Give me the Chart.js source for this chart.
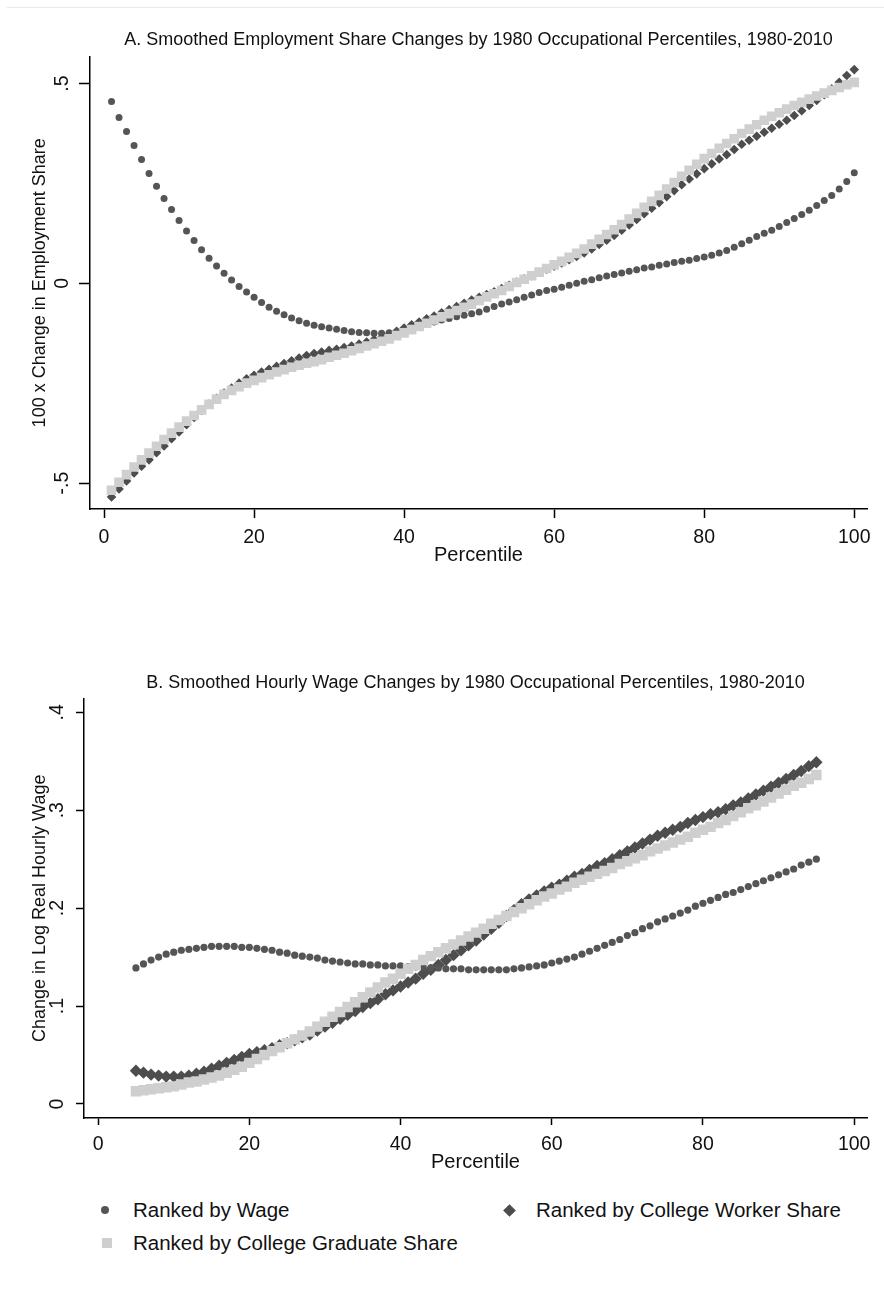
<!DOCTYPE html>
<html>
<head>
<meta charset="utf-8">
<script src="https://cdn.jsdelivr.net/npm/chart.js@4.4.1/dist/chart.umd.min.js"></script>
<style>
  body { margin: 0; background: #fff; width: 884px; height: 1289px; position: relative; overflow: hidden;
         font-family: "Liberation Sans", Arial, sans-serif; }
  #topline { position: absolute; left: 7px; right: 0; top: 7px; height: 1px; background: #e4eaf0; }
  canvas { position: absolute; left: 0; }
  #chartA { top: 0; }
  #chartB { top: 640px; }
  .item { position: absolute; font-size: 20.5px; line-height: 24px; color: #111; white-space: nowrap; }
  .mk { position: absolute; }
</style>
</head>
<body>
<div id="topline"></div>
<canvas id="chartA" width="884" height="580"></canvas>
<canvas id="chartB" width="884" height="550"></canvas>

<div class="mk" style="left:101px;top:1206px;width:8px;height:8px;border-radius:50%;background:#555;"></div>
<div class="item" style="left:133px;top:1198px;">Ranked by Wage</div>
<div class="mk" style="left:505px;top:1206px;width:9px;height:9px;background:#4d4d4d;transform:rotate(45deg);"></div>
<div class="item" style="left:536px;top:1198px;">Ranked by College Worker Share</div>
<div class="mk" style="left:102px;top:1238px;width:10px;height:10px;background:#cfcfcf;"></div>
<div class="item" style="left:133px;top:1231px;">Ranked by College Graduate Share</div>

<script>
function range(a, b) { var r = []; for (var i = a; i <= b; i++) r.push(i); return r; }

// percentile positions
const percentilesA = range(1, 100);
const percentilesB = range(5, 95);
const xTicks = [0, 20, 40, 60, 80, 100];
const yTicksA = [-0.5, 0, 0.5];
const yTicksB = [0, 0.1, 0.2, 0.3, 0.4];
const seriesNames = ["Ranked by Wage", "Ranked by College Worker Share", "Ranked by College Graduate Share"];

// Panel A: 100 x change in employment share
const wageA = [.455,.415,.38,.345,.31,.275,.243,.212,.185,.157,
  .131,.107,.084,.063,.043,.025,.008,-.008,-.022,-.035,
  -.048,-.06,-.07,-.079,-.087,-.094,-.1,-.105,-.109,-.112,
  -.115,-.118,-.121,-.123,-.124,-.125,-.125,-.124,-.121,-.116,
  -.111,-.106,-.101,-.097,-.092,-.088,-.084,-.080,-.076,-.072,
  -.065,-.058,-.052,-.047,-.041,-.035,-.029,-.023,-.018,-.015,
  -.010,-.005,.000,.005,.009,.014,.018,.022,.026,.030,
  .034,.038,.041,.045,.048,.052,.055,.058,.062,.066,
  .070,.076,.082,.090,.099,.108,.117,.125,.133,.142,
  .152,.162,.172,.183,.195,.207,.220,.236,.255,.277];
const workerA = [-.535,-.515,-.495,-.475,-.458,-.442,-.424,-.407,-.389,-.372,
  -.354,-.336,-.318,-.302,-.288,-.275,-.262,-.250,-.239,-.230,
  -.222,-.215,-.208,-.201,-.194,-.187,-.181,-.176,-.172,-.168,
  -.165,-.161,-.157,-.152,-.147,-.141,-.135,-.128,-.120,-.112,
  -.104,-.097,-.089,-.082,-.074,-.066,-.058,-.050,-.042,-.035,
  -.028,-.021,-.013,-.005,.003,.011,.019,.027,.035,.043,
  .051,.059,.067,.076,.086,.097,.108,.120,.133,.146,
  .160,.174,.188,.202,.217,.232,.247,.261,.274,.287,
  .299,.311,.322,.335,.348,.358,.368,.378,.388,.398,
  .408,.420,.432,.445,.458,.472,.487,.503,.520,.535];
const gradA = [-.518,-.498,-.479,-.460,-.442,-.425,-.408,-.391,-.375,-.360,
  -.345,-.331,-.317,-.303,-.290,-.278,-.268,-.259,-.250,-.243,
  -.236,-.229,-.222,-.216,-.210,-.205,-.200,-.196,-.191,-.185,
  -.180,-.175,-.169,-.163,-.157,-.151,-.145,-.139,-.131,-.124,
  -.116,-.108,-.100,-.092,-.084,-.076,-.068,-.060,-.052,-.043,
  -.034,-.026,-.018,-.008,.002,.010,.019,.028,.037,.046,
  .055,.065,.075,.086,.098,.110,.122,.134,.147,.161,
  .175,.190,.205,.220,.236,.252,.268,.283,.298,.312,
  .325,.338,.350,.362,.375,.386,.397,.408,.418,.427,
  .436,.445,.453,.461,.469,.476,.483,.490,.497,.503];

// Panel B: change in log real hourly wage
const wageB = [.139,.143,.147,.150,.153,.155,.157,.158,.159,.160,
  .161,.161,.161,.161,.160,.160,.159,.158,.157,.155,
  .154,.152,.151,.150,.149,.147,.146,.145,.144,.143,
  .143,.142,.142,.141,.141,.141,.140,.140,.140,.139,
  .139,.138,.138,.138,.137,.137,.137,.137,.137,.137,
  .138,.139,.140,.141,.142,.144,.146,.148,.150,.153,
  .156,.159,.162,.165,.168,.172,.175,.179,.182,.186,
  .189,.192,.195,.198,.202,.205,.208,.211,.214,.216,
  .219,.222,.225,.228,.231,.234,.237,.240,.244,.247,
  .250];
const workerB = [.034,.032,.030,.029,.028,.028,.028,.029,.031,.033,
  .036,.039,.042,.045,.048,.051,.053,.055,.057,.060,
  .062,.065,.068,.071,.075,.079,.083,.087,.091,.095,
  .099,.103,.107,.112,.116,.120,.124,.128,.133,.137,
  .142,.147,.152,.157,.162,.167,.173,.179,.185,.192,
  .198,.204,.209,.213,.217,.221,.224,.228,.232,.235,
  .239,.243,.246,.250,.254,.258,.262,.266,.270,.274,
  .277,.280,.283,.287,.290,.293,.296,.298,.301,.305,
  .308,.312,.316,.320,.324,.328,.332,.336,.340,.345,
  .349];
const gradB = [.013,.014,.015,.016,.017,.018,.020,.022,.023,.025,
  .027,.029,.032,.035,.038,.042,.046,.050,.054,.058,
  .062,.066,.070,.074,.079,.084,.089,.094,.099,.104,
  .109,.114,.119,.124,.128,.133,.138,.142,.147,.151,
  .155,.159,.163,.167,.171,.175,.179,.184,.188,.192,
  .196,.200,.204,.208,.212,.215,.219,.222,.226,.229,
  .232,.235,.238,.241,.245,.248,.251,.254,.258,.261,
  .264,.267,.270,.273,.277,.280,.283,.287,.290,.294,
  .298,.302,.305,.309,.313,.317,.321,.325,.328,.332,
  .336];

Chart.defaults.font.family = "'Liberation Sans', Arial, sans-serif";
Chart.defaults.color = "#111";

function pts(xs, ys) { return ys.map(function (y, i) { return { x: xs[i], y: y }; }); }

// stata style: .5, -.5, 0
function stataLabel(v) {
  if (Math.abs(v) < 1e-9) return "0";
  return String(+v.toFixed(2)).replace("0.", ".");
}

function makeChart(id, c) {
  var ctx = document.getElementById(id).getContext("2d");
  return new Chart(ctx, {
    type: "scatter",
    data: {
      datasets: [
        { label: seriesNames[2], data: pts(c.xs, c.grad), order: 0, pointStyle: "rect",
          pointRadius: c.gradR, pointHoverRadius: c.gradR, backgroundColor: "#cfcfcf", borderWidth: 0 },
        { label: seriesNames[0], data: pts(c.xs, c.wage), order: 1, pointStyle: "circle",
          pointRadius: c.wageR, pointHoverRadius: c.wageR, backgroundColor: "#555555", borderWidth: 0 },
        { label: seriesNames[1], data: pts(c.xs, c.worker), order: 2, pointStyle: "rectRot",
          pointRadius: c.workerR, pointHoverRadius: c.workerR, backgroundColor: "#4d4d4d", borderWidth: 0 },
      ],
    },
    options: {
      responsive: false,
      animation: false,
      events: [],
      devicePixelRatio: 1,
      layout: { padding: { left: 0, top: 0, right: 17, bottom: c.padBottom } },
      plugins: {
        legend: { display: false },
        tooltip: { enabled: false },
        title: {
          display: true,
          text: c.title,
          fullSize: false,
          color: "#111",
          font: { size: 18, weight: "normal" },
          padding: { top: c.titleTop, bottom: c.titleBottom },
        },
      },
      scales: {
        x: {
          type: "linear",
          min: -1.87,
          max: 101.7,
          afterBuildTicks: function (s) { s.ticks = xTicks.map(function (v) { return { value: v }; }); },
          afterFit: function (s) { s.height = c.xHeight; },
          border: { display: true, color: "#000", width: 1.5 },
          grid: { drawOnChartArea: false, drawTicks: true, tickLength: c.xTickLen, tickColor: "#000", tickWidth: 1.5 },
          ticks: { color: "#111", font: { size: 19.5 }, padding: 8, maxRotation: 0, autoSkip: false },
          title: { display: true, text: "Percentile", color: "#111", font: { size: 20 }, padding: { top: 0, bottom: 0 } },
        },
        y: {
          type: "linear",
          min: c.yMin,
          max: c.yMax,
          afterBuildTicks: function (s) { s.ticks = c.yTicks.map(function (v) { return { value: v }; }); },
          afterFit: function (s) { s.width = c.yWidth; },
          border: { display: true, color: "#000", width: 1.5 },
          grid: { drawOnChartArea: false, drawTicks: true, tickLength: c.yTickLen, tickColor: "#000", tickWidth: 1.5 },
          ticks: { color: "#111", font: { size: 19.5 }, padding: c.yTickPad, minRotation: 90, maxRotation: 90,
                   crossAlign: "center", autoSkip: false, callback: stataLabel },
          title: { display: true, text: c.yTitle, color: "#111", font: { size: 18 }, padding: { top: 29, bottom: 0 } },
        },
      },
    },
  });
}

makeChart("chartA", {
  title: "A. Smoothed Employment Share Changes by 1980 Occupational Percentiles, 1980-2010",
  yTitle: "100 x Change in Employment Share",
  xs: percentilesA, wage: wageA, worker: workerA, grad: gradA,
  yMin: -0.565, yMax: 0.5675, yTicks: yTicksA,
  yWidth: 90, xHeight: 58, padBottom: 13, titleTop: 29, titleBottom: 6,
  xTickLen: 9, yTickLen: 11, yTickPad: 5,
  wageR: 3.5, workerR: 4.8, gradR: 6.8,
});

makeChart("chartB", {
  title: "B. Smoothed Hourly Wage Changes by 1980 Occupational Percentiles, 1980-2010",
  yTitle: "Change in Log Real Hourly Wage",
  xs: percentilesB, wage: wageB, worker: workerB, grad: gradB,
  yMin: -0.0143, yMax: 0.414, yTicks: yTicksB,
  yWidth: 84, xHeight: 56, padBottom: 16, titleTop: 32, titleBottom: 5,
  xTickLen: 7, yTickLen: 8, yTickPad: 10,
  wageR: 3.6, workerR: 6.2, gradR: 7.4,
});
</script>
</body>
</html>
